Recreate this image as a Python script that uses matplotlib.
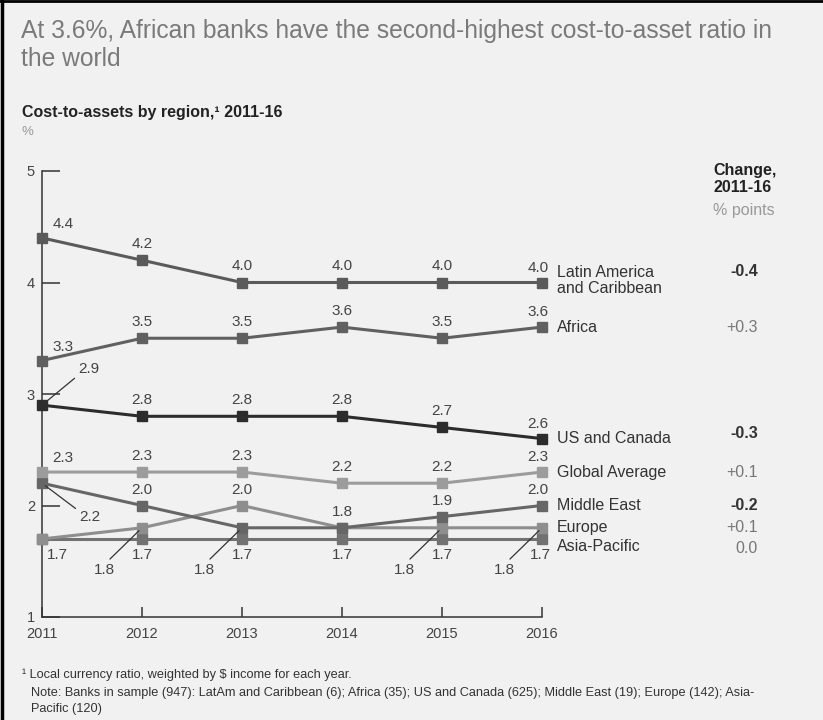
import matplotlib.pyplot as plt
from matplotlib.lines import Line2D
from matplotlib.transforms import blended_transform_factory

plt.rcParams["font.family"] = ["Liberation Sans", "DejaVu Sans"]

years = [2011, 2012, 2013, 2014, 2015, 2016]
regions = [
    "Latin America\nand Caribbean",
    "Africa",
    "US and Canada",
    "Global Average",
    "Middle East",
    "Europe",
    "Asia-Pacific",
]
latam = [4.4, 4.2, 4.0, 4.0, 4.0, 4.0]
africa = [3.3, 3.5, 3.5, 3.6, 3.5, 3.6]
us_canada = [2.9, 2.8, 2.8, 2.8, 2.7, 2.6]
global_avg = [2.3, 2.3, 2.3, 2.2, 2.2, 2.3]
middle_east = [2.2, 2.0, 1.8, 1.8, 1.9, 2.0]
europe = [1.7, 1.8, 2.0, 1.8, 1.8, 1.8]
asia_pacific = [1.7, 1.7, 1.7, 1.7, 1.7, 1.7]
changes = [-0.4, 0.3, -0.3, 0.1, -0.2, 0.1, 0.0]

series = [latam, africa, us_canada, global_avg, middle_east, europe, asia_pacific]
colors = ["#5a5a5a", "#606060", "#2c2c2c", "#9c9c9c", "#666666", "#8e8e8e", "#727272"]

# where each point's value label goes: a=above, b=below, l=leader down-left,
# lu=leader up-right, ld=leader down-right, None=no label
placements = [
    ["a"] * 6,
    ["a"] * 6,
    ["lu", "a", "a", "a", "a", "a"],
    ["a"] * 6,
    ["ld", "a", "l", "a", "a", "a"],
    [None, "l", "a", None, "l", "l"],
    ["b"] * 6,
]
# vertical nudges (px) for the region names and change values
name_dy = [2, 0, 0, 0, 0, 0, -8]
change_dy = [11, 0, 5, 0, 0, 0, -10]

W, H = 823, 720
bg = "#f1f1f1"
txt = "#444444"

fig = plt.figure(figsize=(W / 100, H / 100), dpi=100, facecolor=bg)

# frame on left and top
fig.add_artist(Line2D([0.002, 0.002], [0, 1], transform=fig.transFigure, color="black", lw=2.5))
fig.add_artist(Line2D([0, 1], [0.998, 0.998], transform=fig.transFigure, color="black", lw=2))

fig.text(21 / W, 1 - 19 / H, "At 3.6%, African banks have the second-highest cost-to-asset ratio in\nthe world",
         fontsize=17.7, color="#7a7a7a", ha="left", va="top", linespacing=1.22)
fig.text(22 / W, 1 - 112 / H, "Cost-to-assets by region,\u00b9 2011-16", fontsize=11.5,
         fontweight="bold", color="#222222", ha="left", va="center")
fig.text(22 / W, 1 - 132 / H, "%", fontsize=9.5, color="#999999", ha="left", va="center")

ax = fig.add_axes([42 / W, 1 - 617 / H, 500 / W, 446 / H])
ax.set_facecolor("none")
ax.set_xlim(2011, 2016)
ax.set_ylim(1, 5)
for s in ["top", "right"]:
    ax.spines[s].set_visible(False)
for s in ["left", "bottom"]:
    ax.spines[s].set_color("#333333")
    ax.spines[s].set_linewidth(1.1)
ax.set_xticks(years)
ax.set_yticks([1, 2, 3, 4, 5])
ax.tick_params(axis="y", direction="in", length=13, width=1.1, color="#333333",
               labelsize=10.5, labelcolor=txt, pad=5)
ax.tick_params(axis="x", direction="in", length=7, width=1.1, color="#333333",
               labelsize=10.5, labelcolor=txt, pad=7)

# lowest lines first so the upper ones sit on top
for vals, col in list(zip(series, colors))[::-1]:
    ax.plot(years, vals, color=col, lw=2.2, marker="s", ms=6.5, clip_on=False, zorder=3)


def put_label(x, y, i, kind):
    label = f"{y:.1f}"
    if kind == "a":
        off = (21, 14) if i == 0 else ((-4, 15) if i == 5 else (0, 16))
        ax.annotate(label, (x, y), xytext=off, textcoords="offset pixels",
                    ha="center", va="center", fontsize=11, color=txt)
    elif kind == "b":
        off = (15, -16) if i == 0 else ((-2, -16) if i == 5 else (0, -16))
        ax.annotate(label, (x, y), xytext=off, textcoords="offset pixels",
                    ha="center", va="center", fontsize=11, color=txt)
    else:
        tx, ty, rel = {"l": (-38, -42, (0.6, 1.0)),
                       "lu": (47, 36, (0.1, 0.2)),
                       "ld": (48, -34, (0.1, 0.8))}[kind]
        ax.annotate(label, (x, y), xytext=(tx, ty), textcoords="offset pixels",
                    ha="center", va="center", fontsize=11, color=txt,
                    arrowprops=dict(arrowstyle="-", color="#333333", lw=0.9,
                                    shrinkA=1, shrinkB=3, relpos=rel))


for vals, place in zip(series, placements):
    for i, (x, y) in enumerate(zip(years, vals)):
        if place[i] is not None:
            put_label(x, y, i, place[i])

# region names beside the last point
for name, vals, dy in zip(regions, series, name_dy):
    ax.annotate(name, (years[-1], vals[-1]), xytext=(15, dy), textcoords="offset pixels",
                ha="left", va="center", fontsize=11.5, color="#333333", linespacing=1.05)

# change column
blend = blended_transform_factory(fig.transFigure, ax.transData)
fig.text(713 / W, 1 - 179 / H, "Change,\n2011-16", fontsize=11.5, fontweight="bold",
         color="#222222", ha="left", va="center", linespacing=1.1)
fig.text(713 / W, 1 - 210 / H, "% points", fontsize=11.5, color="#999999", ha="left", va="center")
for ch, vals, dy in zip(changes, series, change_dy):
    if ch < 0:
        s, weight, col = f"{ch:.1f}", "bold", "#333333"
    elif ch > 0:
        s, weight, col = f"+{ch:.1f}", "normal", "#777777"
    else:
        s, weight, col = f"{ch:.1f}", "normal", "#777777"
    ax.annotate(s, (758 / W, vals[-1]), xycoords=blend, xytext=(0, dy),
                textcoords="offset pixels", ha="right", va="center",
                fontsize=11.5, fontweight=weight, color=col)

fig.text(22 / W, 1 - 675 / H, "\u00b9 Local currency ratio, weighted by $ income for each year.",
         fontsize=9.2, color="#333333", ha="left", va="center")
fig.text(31 / W, 1 - 701 / H,
         "Note: Banks in sample (947): LatAm and Caribbean (6); Africa (35); US and Canada (625); "
         "Middle East (19); Europe (142); Asia-\nPacific (120)",
         fontsize=9.2, color="#333333", ha="left", va="center", linespacing=1.35)

fig.savefig("out.png", dpi=100, facecolor=bg)
